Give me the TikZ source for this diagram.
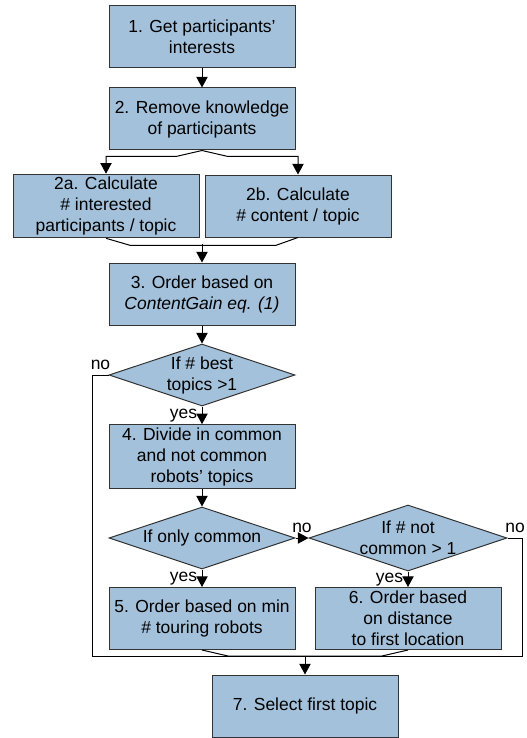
\documentclass[tikz,border=0pt]{standalone}
\usepackage{fontspec}
\setmainfont{Liberation Sans}
\usetikzlibrary{arrows.meta,shapes.geometric}
\definecolor{stepblue}{RGB}{163,193,218}
\tikzset{
  blk/.style={draw=black!80, fill=stepblue, align=center, line width=0.75pt,
              minimum width=139.5pt, minimum height=46.5pt, inner sep=2pt},
  cond/.style={blk, diamond, aspect=3, inner sep=0pt},
  flow/.style={-{Triangle[length=8pt,width=8.5pt]}, line width=0.75pt},
  link/.style={line width=0.75pt},
}
\begin{document}
\begin{tikzpicture}[x=0.75pt, y=-0.75pt, font=\fontsize{13.1}{15.75}\selectfont]
    \useasboundingbox (0,0) rectangle (526,738);

    \node[blk] (get)    at (202,37)    {1. Get participants’\\interests};
    \node[blk] (remove) at (202,119)   {2. Remove knowledge\\of participants};
    \node[blk] (calca)  at (106,206)   {2a. Calculate\\\# interested\\participants / topic};
    \node[blk] (calcb)  at (298,206)   {2b. Calculate\\\# content / topic};
    \node[blk] (gain)   at (202,294)   {3. Order based on\\\textit{ContentGain eq. (1)}};
    \node[cond] (best)  at (202,375)   {If \# best\\topics >1};
    \node[blk] (divide) at (202,456.5) {4. Divide in common\\and not common\\robots’ topics};
    \node[cond] (only)  at (202,538)   {If only common};
    \node[cond] (notc)  at (408,538)   {If \# not\\common > 1};
    \node[blk] (touring) at (202,618.5) {5. Order based on min\\\# touring robots};
    \node[blk] (dist)   at (408,618.5) {6. Order based\\on distance\\to first location};
    \node[blk] (select) at (305,706)   {7. Select first topic};

    \coordinate (split) at (202,244);
    \coordinate (join)  at (305,656);

    \draw[flow] (get) -- (remove);
    \draw[flow] (remove.south) -- ++(-26,6) -| (calca);
    \draw[flow] (remove.south) -- ++(26,6) -| (calcb);
    \draw[link] (calca.south) -- ++(24,7) -- ++(146,0) -- (calcb.south);
    \draw[flow] (split) -- (gain);
    \draw[flow] (gain) -- (best);
    \draw[flow] (best) -- node[left] {yes} (divide);
    \draw[flow] (divide) -- (only);
    \draw[flow] (only) -- node[left] {yes} (touring);
    \draw[flow] (only) -- node[above] {no} (notc);
    \draw[flow] (notc) -- node[left] {yes} (dist);
    \draw[link] (best.west) -- node[above] {no} ++(-16,0) |- (join);
    \draw[link] (notc.east) -- node[above] {no} ++(15,0) |- (join);
    \draw[link] (touring.south) -- ++(26,6) -- (join);
    \draw[link] (dist.south) -- ++(-26,6) -- (join);
    \draw[flow] (join) -- (select);
  \end{tikzpicture}
\end{document}
